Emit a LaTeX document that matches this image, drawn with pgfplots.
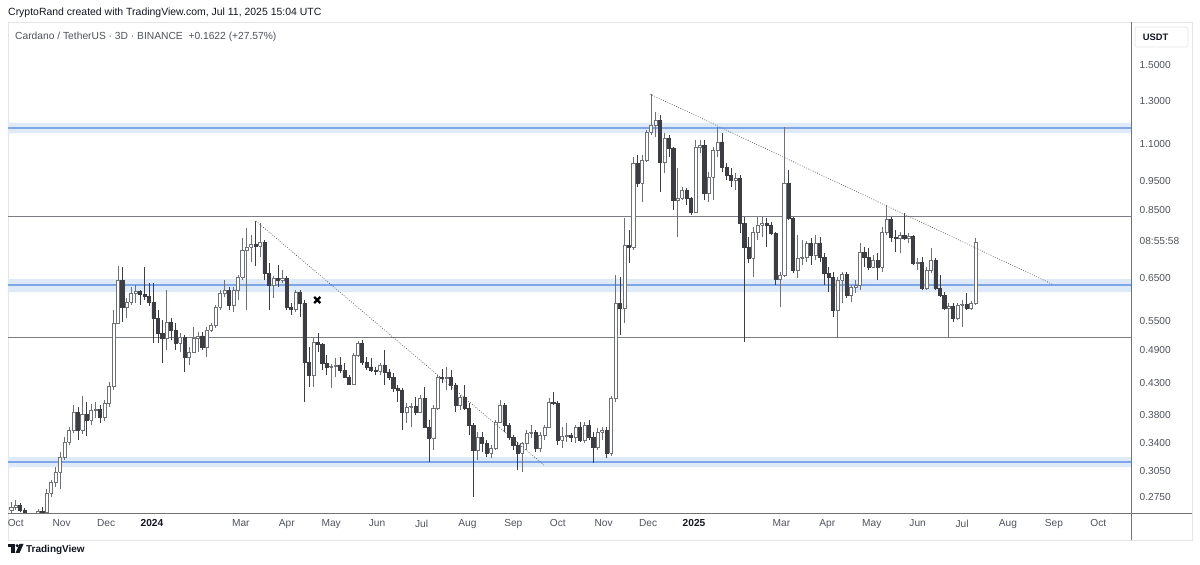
\documentclass[border=0pt]{standalone}
\usepackage{fontspec}
\setmainfont{Liberation Sans}
\usepackage{pgfplots}
\usepackage{pgfplotstable}
\pgfplotsset{compat=1.18}
\definecolor{bandfill}{HTML}{DFEAF9}
\definecolor{bandline}{HTML}{7FA6E6}
\definecolor{hline}{HTML}{7B7E87}
\definecolor{bearc}{HTML}{3D3E44}
\definecolor{bullc}{HTML}{6F7178}
\definecolor{txt}{HTML}{131722}
\definecolor{lbl}{HTML}{50535E}
\definecolor{framec}{HTML}{E3E5EA}

% d = days since 2024-01-01, 3D candles: open high low close (USDT)
\pgfplotstableread{
d o h l c
-95 0.2614 0.2698 0.2573 0.2645
-92 0.2645 0.2719 0.2614 0.2666
-89 0.2666 0.2687 0.2594 0.2614
-86 0.2614 0.2635 0.2533 0.2573
-83 0.2573 0.2583 0.2494 0.2533
-80 0.2533 0.2573 0.2494 0.2553
-77 0.2553 0.2624 0.2523 0.2604
-74 0.2604 0.2645 0.2563 0.2594
-71 0.2594 0.2839 0.2573 0.2795
-68 0.2795 0.2941 0.2751 0.2918
-65 0.2918 0.3095 0.2861 0.3035
-62 0.3035 0.3283 0.2839 0.3219
-59 0.3219 0.3482 0.3181 0.3414
-56 0.3414 0.3622 0.3374 0.3579
-53 0.3579 0.3948 0.3537 0.3841
-50 0.3841 0.3917 0.3441 0.3579
-47 0.3579 0.4090 0.3523 0.3811
-44 0.3811 0.3995 0.3495 0.3722
-41 0.3722 0.3963 0.3650 0.3871
-38 0.3871 0.3995 0.3752 0.3886
-35 0.3886 0.3948 0.3678 0.3766
-32 0.3766 0.4026 0.3707 0.3979
-29 0.3979 0.4321 0.3917 0.4254
-26 0.4254 0.5733 0.4188 0.5447
-23 0.5447 0.6813 0.5426 0.6449
-20 0.6449 0.6787 0.5469 0.5800
-17 0.5800 0.6009 0.5555 0.5915
-14 0.5915 0.6275 0.5846 0.6128
-11 0.6128 0.6324 0.5892 0.6177
-8 0.6177 0.6201 0.5846 0.6104
-5 0.6104 0.6787 0.5962 0.6056
-2 0.6056 0.6374 0.5823 0.5915
1 0.5915 0.6374 0.5036 0.5555
4 0.5555 0.5733 0.5036 0.5238
7 0.5238 0.5512 0.4656 0.5136
10 0.5136 0.6201 0.4900 0.5469
13 0.5469 0.5555 0.5096 0.5300
16 0.5300 0.5447 0.4900 0.5036
19 0.5036 0.5238 0.4862 0.5156
22 0.5156 0.5197 0.4495 0.4767
25 0.4767 0.4958 0.4620 0.4862
28 0.4862 0.5363 0.4843 0.5136
31 0.5136 0.5259 0.4862 0.5177
34 0.5177 0.5259 0.4900 0.4958
37 0.4958 0.5363 0.4767 0.5300
40 0.5300 0.5447 0.5259 0.5405
43 0.5405 0.5846 0.5342 0.5800
46 0.5800 0.6201 0.5733 0.6128
49 0.6128 0.6449 0.6032 0.6201
52 0.6201 0.6275 0.5733 0.5846
55 0.5846 0.6275 0.5688 0.6201
58 0.6201 0.6577 0.5962 0.6526
61 0.6526 0.7605 0.6449 0.7255
64 0.7255 0.7910 0.5733 0.7341
67 0.7341 0.7695 0.6921 0.7428
70 0.7428 0.8130 0.6813 0.7370
73 0.7370 0.8066 0.7058 0.7487
76 0.7487 0.7546 0.6449 0.6628
79 0.6628 0.6894 0.5733 0.6324
82 0.6324 0.6551 0.6009 0.6500
85 0.6500 0.6840 0.6275 0.6449
88 0.6449 0.6707 0.6374 0.6500
91 0.6500 0.6551 0.5733 0.5800
94 0.5800 0.5892 0.5621 0.5755
97 0.5755 0.6201 0.5688 0.6153
100 0.6153 0.6201 0.5577 0.5892
103 0.5892 0.5962 0.3995 0.4674
106 0.4674 0.4958 0.4238 0.4442
109 0.4442 0.5136 0.4238 0.5056
112 0.5056 0.5238 0.4862 0.5016
115 0.5016 0.5036 0.4530 0.4656
118 0.4656 0.4805 0.4442 0.4584
121 0.4584 0.4638 0.4221 0.4602
124 0.4602 0.4749 0.4407 0.4620
127 0.4620 0.4767 0.4477 0.4530
130 0.4530 0.4656 0.4390 0.4407
133 0.4407 0.4442 0.4271 0.4287
136 0.4287 0.4843 0.4271 0.4805
139 0.4805 0.5076 0.4767 0.5036
142 0.5036 0.5096 0.4620 0.4674
145 0.4674 0.4767 0.4530 0.4584
148 0.4584 0.4749 0.4495 0.4530
151 0.4530 0.4584 0.4442 0.4512
154 0.4512 0.4656 0.4442 0.4620
157 0.4620 0.4900 0.4271 0.4495
160 0.4495 0.4548 0.4355 0.4407
163 0.4407 0.4477 0.4155 0.4221
166 0.4221 0.4271 0.3995 0.4188
169 0.4188 0.4221 0.3579 0.3841
172 0.3841 0.3979 0.3678 0.3917
175 0.3917 0.3979 0.3622 0.3933
178 0.3933 0.4074 0.3796 0.3841
181 0.3841 0.4106 0.3826 0.4058
184 0.4058 0.4238 0.3607 0.3622
187 0.3622 0.3722 0.3156 0.3468
190 0.3468 0.3948 0.3309 0.3902
193 0.3902 0.4442 0.3871 0.4407
196 0.4407 0.4548 0.4304 0.4390
199 0.4390 0.4584 0.4188 0.4407
202 0.4407 0.4530 0.4188 0.4271
205 0.4271 0.4304 0.3841 0.3948
208 0.3948 0.4106 0.3871 0.4074
211 0.4074 0.4271 0.3871 0.3902
214 0.3902 0.3979 0.3509 0.3650
217 0.3650 0.3678 0.2751 0.3309
220 0.3309 0.3551 0.3181 0.3482
223 0.3482 0.3551 0.3283 0.3401
226 0.3401 0.3441 0.3219 0.3270
229 0.3270 0.3374 0.3206 0.3335
232 0.3335 0.3722 0.3309 0.3693
235 0.3693 0.4026 0.3678 0.3948
238 0.3948 0.3979 0.3551 0.3650
241 0.3650 0.3678 0.3441 0.3482
244 0.3482 0.3509 0.3309 0.3374
247 0.3374 0.3414 0.3059 0.3270
250 0.3270 0.3414 0.3035 0.3401
253 0.3401 0.3579 0.3309 0.3537
256 0.3537 0.3650 0.3468 0.3551
259 0.3551 0.3579 0.3283 0.3335
262 0.3335 0.3551 0.3283 0.3509
265 0.3509 0.3650 0.3441 0.3622
268 0.3622 0.4058 0.3607 0.3995
271 0.3995 0.4155 0.3948 0.3979
274 0.3979 0.4010 0.3374 0.3441
277 0.3441 0.3622 0.3335 0.3495
280 0.3495 0.3678 0.3414 0.3509
283 0.3509 0.3537 0.3414 0.3482
286 0.3482 0.3650 0.3401 0.3622
289 0.3622 0.3693 0.3414 0.3441
292 0.3441 0.3693 0.3401 0.3650
295 0.3650 0.3722 0.3441 0.3482
298 0.3482 0.3551 0.3144 0.3348
301 0.3348 0.3607 0.3309 0.3551
304 0.3551 0.3622 0.3441 0.3579
307 0.3579 0.3622 0.3206 0.3270
310 0.3270 0.4090 0.3231 0.4058
313 0.4058 0.6577 0.3995 0.5892
316 0.5892 0.6526 0.5197 0.5778
319 0.5778 0.8226 0.5447 0.7399
322 0.7399 0.7848 0.6894 0.7341
325 0.7341 1.0452 0.7255 1.0209
328 1.0209 1.0535 0.9291 0.9438
331 0.9438 1.0535 0.8760 1.0330
334 1.0330 1.1621 1.0249 1.1530
337 1.1530 1.3385 1.1395 1.1852
340 1.1852 1.2473 1.1306 1.2087
343 1.2087 1.2326 0.9110 1.0249
346 1.0249 1.1485 0.9816 1.1262
349 1.1262 1.1395 1.0452 1.0829
352 1.0829 1.0872 0.8489 0.8829
355 0.8829 1.0010 0.7635 0.8899
358 0.8899 0.9291 0.8829 0.9182
361 0.9182 0.9254 0.8657 0.8899
364 0.8899 0.8934 0.8324 0.8423
367 0.8423 1.1174 0.8390 1.0872
370 1.0872 1.1174 1.0618 1.0957
373 1.0957 1.1174 0.8829 0.9075
376 0.9075 0.9855 0.8760 0.9663
379 0.9663 1.0872 0.8829 1.0744
382 1.0744 1.1759 1.0452 1.1087
385 1.1087 1.1485 0.9855 1.0050
388 1.0050 1.0209 0.9550 0.9739
391 0.9739 1.0010 0.9291 0.9550
394 0.9550 0.9816 0.9182 0.9625
397 0.9625 0.9739 0.7756 0.8066
400 0.8066 0.8259 0.5056 0.7341
403 0.7341 0.7635 0.6894 0.7031
406 0.7031 0.7941 0.6526 0.7787
409 0.7787 0.8259 0.7546 0.8004
412 0.8004 0.8259 0.7635 0.8066
415 0.8066 0.8226 0.7341 0.8004
418 0.8004 0.8098 0.7695 0.7756
421 0.7756 0.7787 0.6324 0.6474
424 0.6474 0.6655 0.5800 0.6577
427 0.6577 1.1759 0.6526 0.9438
430 0.9438 0.9932 0.8162 0.8226
433 0.8226 0.8259 0.6628 0.6707
436 0.6707 0.7695 0.6500 0.7031
439 0.7031 0.7546 0.6840 0.7058
442 0.7058 0.7516 0.6921 0.7458
445 0.7458 0.7605 0.6840 0.7114
448 0.7114 0.7695 0.6976 0.7458
451 0.7458 0.7635 0.6921 0.7058
454 0.7058 0.7170 0.6324 0.6628
457 0.6628 0.6787 0.6153 0.6526
460 0.6526 0.6655 0.5577 0.5733
463 0.5733 0.6526 0.5136 0.6449
466 0.6449 0.6655 0.5892 0.6602
469 0.6602 0.6655 0.6009 0.6080
472 0.6080 0.6324 0.5915 0.6275
475 0.6275 0.6449 0.6128 0.6324
478 0.6324 0.7458 0.6201 0.7198
481 0.7198 0.7341 0.6787 0.7058
484 0.7058 0.7313 0.6707 0.6787
487 0.6787 0.7114 0.6760 0.6976
490 0.6976 0.7170 0.6449 0.6787
493 0.6787 0.7941 0.6655 0.7787
496 0.7787 0.8657 0.7695 0.8194
499 0.8194 0.8259 0.7487 0.7635
502 0.7635 0.7848 0.7198 0.7605
505 0.7605 0.7787 0.7170 0.7695
508 0.7695 0.8390 0.7546 0.7605
511 0.7605 0.7756 0.7458 0.7665
514 0.7665 0.7695 0.6840 0.6894
517 0.6894 0.7031 0.6707 0.6921
520 0.6921 0.7058 0.6201 0.6250
523 0.6250 0.6787 0.6201 0.6707
526 0.6707 0.7313 0.6628 0.6976
529 0.6976 0.7031 0.6201 0.6250
532 0.6250 0.6577 0.6032 0.6080
535 0.6080 0.6153 0.5733 0.5778
538 0.5778 0.5892 0.5136 0.5823
541 0.5823 0.5892 0.5469 0.5555
544 0.5555 0.5892 0.5512 0.5846
547 0.5846 0.5962 0.5363 0.5869
550 0.5869 0.6128 0.5733 0.5778
553 0.5778 0.5939 0.5733 0.5892
556 0.5892 0.7605 0.5846 0.7487
}\candles

\pgfplotsset{
  bull/.style={fill=white, draw=bullc, line width=0.7bp},
  bear/.style={fill=bearc, draw=bearc, line width=0.7bp},
  bullwick/.style={draw=bullc, line width=0.7bp},
  bearwick/.style={draw=bearc, line width=0.7bp},
}

\begin{document}
\begin{tikzpicture}
\path[use as bounding box] (0,0) rectangle (1200bp,565bp);
\fill[white] (0,0) rectangle (1200bp,565bp);
\draw[framec, line width=0.8bp] (8bp,25bp) rectangle (1192bp,543bp);
\draw[framec, line width=0.6bp, rounded corners=2bp] (1135bp,518bp) rectangle (1188bp,538bp);

\begin{axis}[
  at={(8bp,52bp)}, anchor=south west, scale only axis,
  width=1123bp, height=491bp,
  xmin=-97.23, xmax=661.04,
  ymode=log, ymin=0.2584, ymax=1.7759,
  axis line style={draw=none},
  major tick length=0pt, minor tick num=0,
  tick style={draw=none},
  ytick pos=right, yticklabel pos=right,
  xtick pos=bottom,
  ytick={0.275,0.305,0.34,0.38,0.43,0.49,0.55,0.65,0.7516,0.85,0.95,1.1,1.3,1.5},
  yticklabels={0.2750,0.3050,0.3400,0.3800,0.4300,0.4900,0.5500,0.6500,08:55:58,0.8500,0.9500,1.1000,1.3000,1.5000},
  yticklabel style={anchor=west, inner sep=0pt, xshift=8.5bp, font=\fontsize{10.2}{12}\selectfont, text=lbl},
  xtick={-92,-61,-31,0,60,91,121,152,182,213,244,274,305,335,366,425,456,486,517,547,578,609,639},
  xticklabels={Oct,Nov,Dec,\textcolor{txt}{\textbf{2024}},Mar,Apr,May,Jun,Jul,Aug,Sep,Oct,Nov,Dec,\textcolor{txt}{\textbf{2025}},Mar,Apr,May,Jun,Jul,Aug,Sep,Oct},
  xticklabel style={anchor=north, inner sep=0pt, yshift=-6.5bp, font=\fontsize{10.2}{12}\selectfont, text=lbl},
  grid=none,
]
% support / resistance zones
\addplot[fill=bandfill, draw=none] coordinates {(-97.23,1.1485) (661.04,1.1485) (661.04,1.1946) (-97.23,1.1946) (-97.23,1.1485)};
\addplot[bandline, line width=1.3bp] coordinates {(-97.23,1.1713) (661.04,1.1713)};
\addplot[fill=bandfill, draw=none] coordinates {(-97.23,0.6153) (661.04,0.6153) (661.04,0.6475) (-97.23,0.6475) (-97.23,0.6153)};
\addplot[bandline, line width=1.3bp] coordinates {(-97.23,0.6324) (661.04,0.6324)};
\addplot[fill=bandfill, draw=none] coordinates {(-97.23,0.3095) (661.04,0.3095) (661.04,0.3219) (-97.23,0.3219) (-97.23,0.3095)};
\addplot[bandline, line width=1.3bp] coordinates {(-97.23,0.3156) (661.04,0.3156)};
\addplot[hline, line width=0.9bp] coordinates {(-97.23,0.8291) (661.04,0.8291)};
\addplot[hline, line width=0.9bp] coordinates {(-97.23,0.5156) (661.04,0.5156)};

% candles
\pgfplotstablegetrowsof{\candles}
\pgfmathtruncatemacro{\nlast}{\pgfplotsretval-1}
\pgfplotsforeachungrouped \i in {0,...,\nlast}{%
  \pgfplotstablegetelem{\i}{d}\of\candles \let\cd\pgfplotsretval
  \pgfplotstablegetelem{\i}{o}\of\candles \let\co\pgfplotsretval
  \pgfplotstablegetelem{\i}{h}\of\candles \let\ch\pgfplotsretval
  \pgfplotstablegetelem{\i}{l}\of\candles \let\cl\pgfplotsretval
  \pgfplotstablegetelem{\i}{c}\of\candles \let\cc\pgfplotsretval
  \pgfmathsetmacro{\xa}{\cd-1.05}%
  \pgfmathsetmacro{\xb}{\cd+1.05}%
  \pgfmathtruncatemacro{\isbear}{\cc<\co}%
  \ifnum\isbear=1 \def\cstyle{bear}\def\wstyle{bearwick}\else\def\cstyle{bull}\def\wstyle{bullwick}\fi
  \edef\temp{%
    \noexpand\addplot[\wstyle] coordinates {(\cd,\cl) (\cd,\ch)};
    \noexpand\addplot[\cstyle] coordinates {(\xa,\co) (\xb,\co) (\xb,\cc) (\xa,\cc) (\xa,\co)};
  }\temp
}

% trend lines
\addplot[black!70, line width=0.6bp, dash pattern=on 0.8bp off 1.6bp] coordinates {(70.2,0.8130) (265.4,0.3107)};
\addplot[black!70, line width=0.6bp, dash pattern=on 0.8bp off 1.6bp] coordinates {(336.3,1.3385) (607.7,0.6348)};
% marker
\addplot[only marks, mark=x, mark size=4.3bp, line width=2.3bp, black] coordinates {(111.6,0.5962)};
\end{axis}

\draw[black!55, line width=0.8bp] (8bp,52bp) -- (1192bp,52bp);
\draw[black!55, line width=0.8bp] (1131bp,25bp) -- (1131bp,543bp);

\node[anchor=base west, inner sep=0pt, text=txt, font=\fontsize{10.5}{12}\selectfont] at (8bp,549bp) {CryptoRand created with TradingView.com, Jul 11, 2025 15:04 UTC};
\node[anchor=base west, inner sep=0pt, text=lbl, font=\fontsize{10.3}{12}\selectfont] at (15bp,525.5bp) {Cardano / TetherUS · 3D · BINANCE\ \ +0.1622 (+27.57\%)};
\node[anchor=base, inner sep=0pt, text=txt, font=\fontsize{9.4}{11}\selectfont\bfseries] at (1155.5bp,524.3bp) {USDT};

% TradingView logo
\fill[txt] (8bp,21bp) rectangle (14.5bp,18bp);
\fill[txt] (11bp,18bp) rectangle (14.5bp,12bp);
\fill[txt] (17.2bp,19.3bp) circle (1.7bp);
\fill[txt] (19.5bp,21bp) -- (23.5bp,21bp) -- (19.5bp,12bp) -- (15.5bp,12bp) -- cycle;
\node[anchor=base west, inner sep=0pt, text=txt, font=\fontsize{10}{12}\selectfont\bfseries] at (26bp,12.3bp) {TradingView};
\end{tikzpicture}
\end{document}
